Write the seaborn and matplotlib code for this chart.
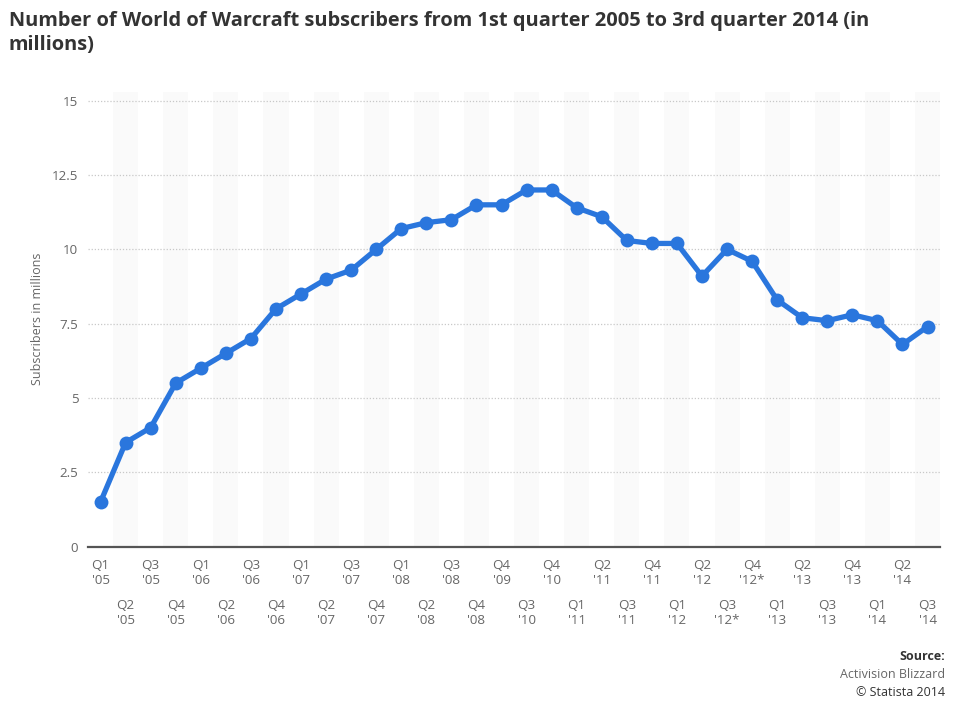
import numpy as np
import pandas as pd
import matplotlib
matplotlib.use('Agg')
import matplotlib.pyplot as plt
import seaborn as sns

quarters = ["Q1\n'05", "Q2\n'05", "Q3\n'05", "Q4\n'05",
            "Q1\n'06", "Q2\n'06", "Q3\n'06", "Q4\n'06",
            "Q1\n'07", "Q2\n'07", "Q3\n'07", "Q4\n'07",
            "Q1\n'08", "Q2\n'08", "Q3\n'08", "Q4\n'08",
            "Q4\n'09", "Q3\n'10", "Q4\n'10",
            "Q1\n'11", "Q2\n'11", "Q3\n'11", "Q4\n'11",
            "Q1\n'12", "Q2\n'12", "Q3\n'12*", "Q4\n'12*",
            "Q1\n'13", "Q2\n'13", "Q3\n'13", "Q4\n'13",
            "Q1\n'14", "Q2\n'14", "Q3\n'14"]
subscribers = [1.5, 3.5, 4.0, 5.5,
               6.0, 6.5, 7.0, 8.0,
               8.5, 9.0, 9.3, 10.0,
               10.7, 10.9, 11.0, 11.5,
               11.5, 12.0, 12.0,
               11.4, 11.1, 10.3, 10.2,
               10.2, 9.1, 10.0, 9.6,
               8.3, 7.7, 7.6, 7.8,
               7.6, 6.8, 7.4]
y_ticks = [0, 2.5, 5, 7.5, 10, 12.5, 15]
y_tick_labels = ['0', '2.5', '5', '7.5', '10', '12.5', '15']

df = pd.DataFrame({'pos': np.arange(len(quarters)), 'subs': subscribers})

sns.set_style('white')
plt.rcParams['font.family'] = ['Open Sans', 'DejaVu Sans']

fig = plt.figure(figsize=(9.6, 7.07), dpi=100)
ax = fig.add_axes([0.0917, 0.227, 0.8875, 0.643])

# alternating column shading
for i in range(len(quarters)):
    if i % 2 == 1:
        ax.axvspan(i - 0.5, i + 0.5, color='#fafafa', zorder=0, lw=0)

sns.lineplot(data=df, x='pos', y='subs', ax=ax, color='#2a76dd',
             linewidth=3.8, marker='o', markersize=10, markeredgewidth=0,
             zorder=3)

ax.set_xlim(-0.5, len(quarters) - 0.5)
ax.set_ylim(0, 15.3)
ax.set_yticks(y_ticks)
ax.set_yticklabels(y_tick_labels)
ax.yaxis.grid(True, linestyle=(0, (1, 1.5)), color='#c8c8c8', linewidth=0.9)
ax.set_axisbelow(True)

ax.set_xticks(df['pos'])
ax.set_xticklabels(quarters, linespacing=1.15)
for i, t in enumerate(ax.xaxis.get_major_ticks()):
    t.set_pad(9 if i % 2 == 0 else 38)

ax.tick_params(axis='both', length=0, labelsize=9.6, labelcolor='#666666')
ax.tick_params(axis='y', pad=7)

for s in ['top', 'right', 'left']:
    ax.spines[s].set_visible(False)
ax.spines['bottom'].set_color('#555555')
ax.spines['bottom'].set_linewidth(1.6)

ax.set_xlabel('')
ax.set_ylabel('Subscribers in millions', fontsize=9, color='#666666', labelpad=6)

fig.text(0.009, 0.985,
         'Number of World of Warcraft subscribers from 1st quarter 2005 to 3rd quarter 2014 (in\nmillions)',
         ha='left', va='top', fontsize=14.4, fontweight='bold', color='#333333',
         linespacing=1.3)

fig.text(0.984, 0.072, 'Source:', ha='right', va='center', fontsize=9,
         fontweight='bold', color='#333333')
fig.text(0.984, 0.046, 'Activision Blizzard', ha='right', va='center',
         fontsize=9, color='#666666')
fig.text(0.984, 0.020, '\u00a9 Statista 2014', ha='right', va='center',
         fontsize=9, color='#333333')

fig.savefig('out.png', dpi=100)
